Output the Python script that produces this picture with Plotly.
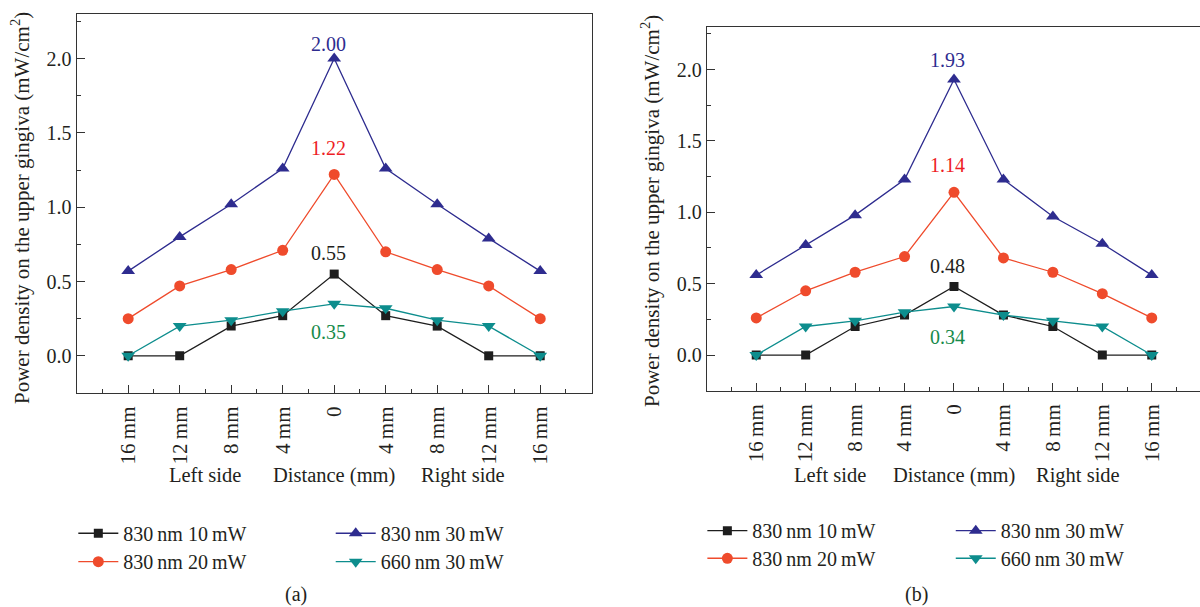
import plotly.graph_objects as go

# Measurement positions along the upper gingiva
positions = [0, 1, 2, 3, 4, 5, 6, 7, 8]
tick_labels = ["16\u2009mm", "12\u2009mm", "8\u2009mm", "4\u2009mm", "0",
               "4\u2009mm", "8\u2009mm", "12\u2009mm", "16\u2009mm"]

series_names = ["830\u2009nm 10\u2009mW", "830\u2009nm 20\u2009mW",
                "830\u2009nm 30\u2009mW", "660\u2009nm 30\u2009mW"]

# Panel (a)
a_830_10 = [0.00, 0.00, 0.20, 0.27, 0.55, 0.27, 0.20, 0.00, 0.00]
a_830_20 = [0.25, 0.47, 0.58, 0.71, 1.22, 0.70, 0.58, 0.47, 0.25]
a_830_30 = [0.57, 0.80, 1.02, 1.26, 2.00, 1.26, 1.02, 0.79, 0.57]
a_660_30 = [0.00, 0.20, 0.24, 0.30, 0.35, 0.32, 0.24, 0.20, 0.00]

# Panel (b)
b_830_10 = [0.00, 0.00, 0.20, 0.28, 0.48, 0.28, 0.20, 0.00, 0.00]
b_830_20 = [0.26, 0.45, 0.58, 0.69, 1.14, 0.68, 0.58, 0.43, 0.26]
b_830_30 = [0.56, 0.77, 0.98, 1.23, 1.93, 1.23, 0.97, 0.78, 0.56]
b_660_30 = [0.00, 0.20, 0.24, 0.30, 0.34, 0.28, 0.24, 0.20, 0.00]

FONT = "Liberation Serif"
TXT = "#231f20"
colors = ["#1e1e1e", "#ef4b2c", "#2e2c8f", "#0d8d8d"]
symbols = ["square", "circle", "triangle-up", "triangle-down"]
msizes = [9, 11, 12, 12]
label_colors = ["#231f20", "#ee1d25", "#2e2c8f", "#168a4a"]

fig = go.Figure()

# one legend box per entry so the 2x2 key under each panel can be placed freely
panels = [
    dict(data=[a_830_10, a_830_20, a_830_30, a_660_30], xa="x", ya="y",
         legends=["legend", "legend2", "legend3", "legend4"]),
    dict(data=[b_830_10, b_830_20, b_830_30, b_660_30], xa="x2", ya="y2",
         legends=["legend5", "legend6", "legend7", "legend8"]),
]

for p in panels:
    for i, vals in enumerate(p["data"]):
        fig.add_trace(go.Scatter(
            x=positions, y=vals, name=series_names[i], mode="lines+markers",
            line=dict(color=colors[i], width=1.3),
            marker=dict(symbol=symbols[i], size=msizes[i], color=colors[i]),
            xaxis=p["xa"], yaxis=p["ya"], legend=p["legends"][i],
            showlegend=True,
        ))

axis_common = dict(
    showline=True, linecolor="#333333", linewidth=1.3, mirror=True,
    ticks="inside", ticklen=8, tickwidth=1.2, tickcolor="#333333",
    showgrid=False, zeroline=False,
)
xtick_font = dict(family=FONT, size=21, color=TXT)
ytick_font = dict(family=FONT, size=20, color=TXT)

minor_x = dict(ticks="inside", ticklen=4, tickwidth=1.2, tickcolor="#333333",
               tickvals=[-0.5, 0.5, 1.5, 2.5, 3.5, 4.5, 5.5, 6.5, 7.5, 8.5])
minor_y = dict(ticks="inside", ticklen=4, tickwidth=1.2, tickcolor="#333333",
               tickvals=[-0.25, 0.25, 0.75, 1.25, 1.75, 2.25])

fig.update_layout(
    width=1200, height=607,
    margin=dict(l=0, r=0, t=0, b=0),
    paper_bgcolor="white", plot_bgcolor="white",
    showlegend=True,
    font=dict(family=FONT, size=20, color=TXT),
    xaxis=dict(axis_common, domain=[0.0639, 0.4931], range=[-1, 9],
               tickvals=positions, ticktext=tick_labels, tickangle=-90,
               tickfont=xtick_font, ticklabelstandoff=4, minor=minor_x, anchor="y"),
    yaxis=dict(axis_common, domain=[0.3526, 0.977], range=[-0.25, 2.3],
               tickvals=[0, 0.5, 1.0, 1.5, 2.0], tickformat=".1f", ticksuffix="\u2005",
               tickfont=ytick_font, minor=minor_y, anchor="x"),
    xaxis2=dict(axis_common, domain=[0.589, 1.0], range=[-1, 8.976],
                tickvals=positions, ticktext=tick_labels, tickangle=-90,
                tickfont=xtick_font, ticklabelstandoff=4, minor=minor_x, anchor="y2"),
    yaxis2=dict(axis_common, domain=[0.3563, 0.956], range=[-0.25, 2.3],
                tickvals=[0, 0.5, 1.0, 1.5, 2.0], tickformat=".1f", ticksuffix="\u2005",
                tickfont=ytick_font, minor=minor_y, anchor="x2", mirror=False),
)

leg_common = dict(orientation="v", xanchor="left", yanchor="top", visible=True,
                  bgcolor="rgba(0,0,0,0)", itemwidth=40,
                  font=dict(family=FONT, size=20, color=TXT))
leg_pos = {
    "legend": (0.0611, 0.1536), "legend2": (0.0611, 0.1068),
    "legend3": (0.2756, 0.1536), "legend4": (0.2756, 0.1068),
    "legend5": (0.5853, 0.1579), "legend6": (0.5853, 0.1124),
    "legend7": (0.7923, 0.1579), "legend8": (0.7923, 0.1124),
}
fig.update_layout({k: dict(leg_common, x=v[0], y=v[1]) for k, v in leg_pos.items()})

# Peak value labels
peaks_a = [(4, 0.69, "0.55", 0), (4, 1.40, "1.22", 1), (4, 2.095, "2.00", 2), (4, 0.16, "0.35", 3)]
peaks_b = [(4, 0.627, "0.48", 0), (4, 1.333, "1.14", 1), (4, 2.07, "1.93", 2), (4, 0.124, "0.34", 3)]
for xa, ya, peaks in [("x", "y", peaks_a), ("x2", "y2", peaks_b)]:
    for px, py, txt, ci in peaks:
        fig.add_annotation(x=px, y=py, xref=xa, yref=ya, text=txt, showarrow=False,
                           xanchor="center", yanchor="middle", xshift=-6,
                           font=dict(family=FONT, size=20, color=label_colors[ci]))

# Axis captions
ytitle = "Power density on the upper gingiva (mW/cm<sup>2</sup>)"
for cx, cy in [(20, 208), (650, 211)]:
    fig.add_annotation(x=cx / 1200, y=1 - cy / 607, xref="paper", yref="paper",
                       text=ytitle, textangle=-90, showarrow=False,
                       xanchor="center", yanchor="middle",
                       font=dict(family=FONT, size=21, color=TXT))

for xa in ["x", "x2"]:
    for px, txt in [(1.5, "Left side"), (4.0, "Distance (mm)"), (6.5, "Right side")]:
        fig.add_annotation(x=px, y=1 - 475 / 607, xref=xa, yref="paper", text=txt,
                           showarrow=False, xanchor="center", yanchor="middle",
                           font=dict(family=FONT, size=20.5, color=TXT))

for cx, txt in [(296, "(a)"), (916, "(b)")]:
    fig.add_annotation(x=cx / 1200, y=1 - 594 / 607, xref="paper", yref="paper", text=txt,
                       showarrow=False, xanchor="center", yanchor="middle",
                       font=dict(family=FONT, size=20, color=TXT))

fig.write_html("out.html")
